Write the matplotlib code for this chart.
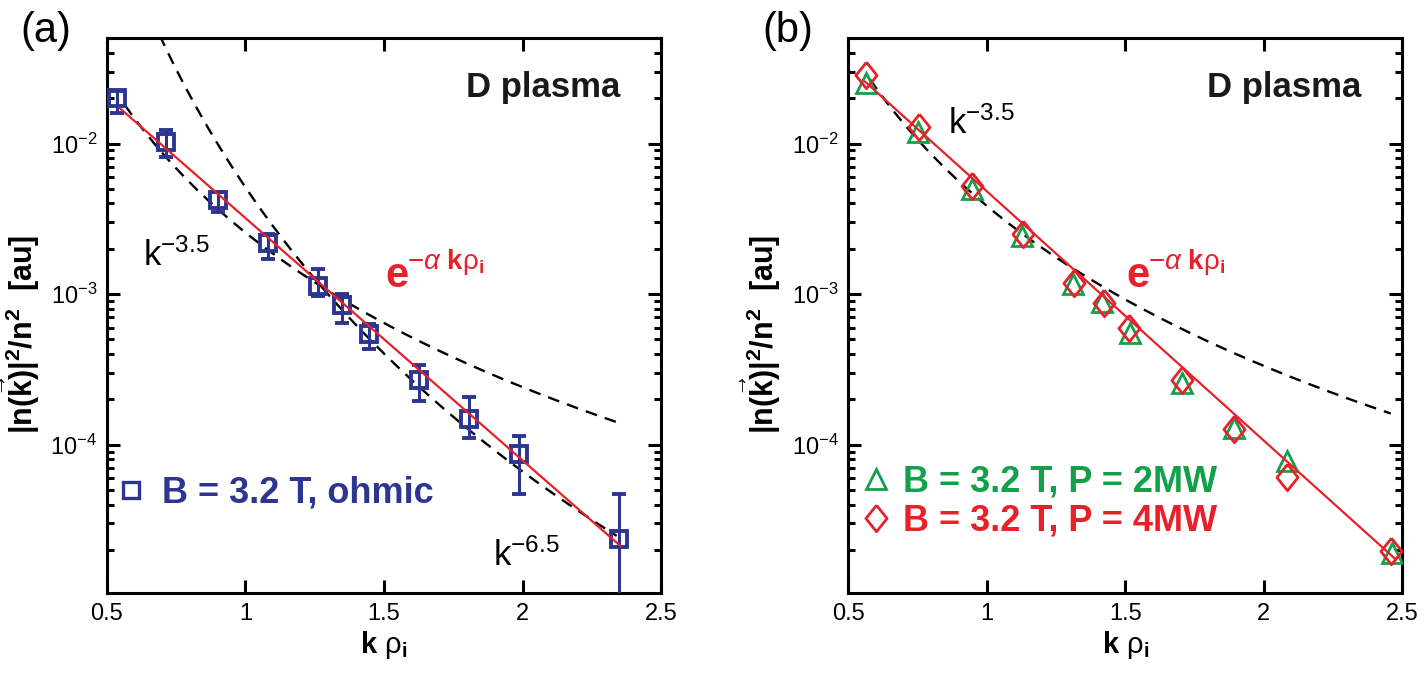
import numpy as np
import matplotlib
matplotlib.use('Agg')
import matplotlib.pyplot as plt
from matplotlib.lines import Line2D

# ---- panel (a): B = 3.2 T, ohmic ----
k_a = [0.536, 0.712, 0.900, 1.081, 1.263, 1.350, 1.447, 1.625, 1.807, 1.988, 2.350]
n_a = [2.01e-2, 1.02e-2, 4.25e-3, 2.18e-3, 1.13e-3, 8.5e-4, 5.4e-4, 2.69e-4, 1.49e-4, 8.7e-5, 2.35e-5]
n_a_hi = [2.25e-2, 1.23e-2, 4.75e-3, 2.50e-3, 1.46e-3, 9.96e-4, 6.3e-4, 3.39e-4, 2.08e-4, 1.14e-4, 4.71e-5]
n_a_lo = [1.59e-2, 8.15e-3, 3.49e-3, 1.71e-3, 9.7e-4, 6.46e-4, 4.3e-4, 1.95e-4, 1.10e-4, 4.71e-5, 1e-6]
fit_a_k = [0.547, 2.353]
fit_a_n = [1.714e-2, 2.13e-5]
# power-law guides: (k start, k end, value at k end, exponent)
guides_a = [(0.565, 2.346, 1.40e-4, -3.41), (0.690, 2.340, 2.48e-5, -6.27)]

# ---- panel (b): B = 3.2 T, P = 2MW / 4MW ----
k_b2 = [0.563, 0.753, 0.946, 1.128, 1.311, 1.416, 1.516, 1.705, 1.891, 2.084, 2.464]
n_b2 = [2.51e-2, 1.20e-2, 5.00e-3, 2.44e-3, 1.17e-3, 8.9e-4, 5.5e-4, 2.56e-4, 1.29e-4, 7.85e-5, 1.92e-5]
k_b4 = [0.564, 0.756, 0.948, 1.130, 1.313, 1.422, 1.512, 1.705, 1.891, 2.082, 2.458]
n_b4 = [2.86e-2, 1.29e-2, 5.26e-3, 2.51e-3, 1.19e-3, 8.75e-4, 6.0e-4, 2.69e-4, 1.28e-4, 6.08e-5, 1.97e-5]
fit_b_k = [0.560, 2.476]
fit_b_n = [2.58e-2, 1.73e-5]
guides_b = [(0.578, 2.458, 1.61e-4, -3.53)]

x_ticks = [0.5, 1, 1.5, 2, 2.5]
x_ticklabels = ['0.5', '1', '1.5', '2', '2.5']

BLUE = '#2c3590'
RED = '#e8202a'
GREEN = '#13a04a'

plt.rcParams['font.family'] = ['Liberation Sans', 'DejaVu Sans']
plt.rcParams['mathtext.fontset'] = 'custom'
plt.rcParams['mathtext.rm'] = 'Liberation Sans'
plt.rcParams['mathtext.bf'] = 'Liberation Sans:bold'
plt.rcParams['mathtext.it'] = 'Liberation Sans:italic'
plt.rcParams['mathtext.sf'] = 'Liberation Sans'


def style_axes(ax, tag):
    ax.set_yscale('log')
    ax.set_xlim(0.5, 2.5)
    ax.set_ylim(1.03e-5, 5e-2)
    ax.set_xticks(x_ticks)
    ax.set_xticklabels(x_ticklabels)
    ax.tick_params(which='both', direction='in', top=True, right=True, width=2.2)
    ax.tick_params(which='major', length=9.5, labelsize=17, pad=7)
    ax.tick_params(which='minor', length=5)
    for s in ax.spines.values():
        s.set_linewidth(2.2)
    ax.set_xlabel(r'$\mathbf{k}\ \mathrm{\rho}_{\mathbf{i}}$', fontsize=21, labelpad=3)
    ax.set_ylabel(r'$\mathbf{|n(\vec{k})|^2/n^2}$  [au]', fontsize=22, fontweight='bold')
    ax.yaxis.set_label_coords(-0.118, 0.467)
    ax.text(0.926, 0.894, 'D plasma', transform=ax.transAxes, ha='right',
            va='baseline', fontsize=25, fontweight='bold', color='#1a1a1a')
    ax.text(-0.11, 1.014, tag, transform=ax.transAxes, ha='center', va='center',
            fontsize=30)


def draw_guides(ax, guides):
    for k0, k1, n1, p in guides:
        kk = np.linspace(k0, k1, 200)
        ax.plot(kk, n1 * (kk / k1) ** p, color='black', lw=1.7,
                ls=(0, (5, 3.5)))


def exp_label(ax, x, y):
    ax.text(x, y, 'e', transform=ax.transAxes, color=RED, fontsize=30,
            fontweight='bold', va='baseline')
    ax.annotate(r'$-\alpha\ \mathbf{k}\mathrm{\rho}_{\mathbf{i}}$', xy=(x, y),
                xycoords='axes fraction', xytext=(15.5, 13), textcoords='offset points',
                color=RED, fontsize=20, va='baseline')


fig = plt.figure(figsize=(14.28, 6.75), dpi=100)
ax_a = fig.add_axes([0.0749, 0.121, 0.388, 0.8222])
ax_b = fig.add_axes([0.5941, 0.121, 0.388, 0.8222])

leg_font = {'size': 26, 'weight': 'bold'}

# panel (a)
style_axes(ax_a, '(a)')
draw_guides(ax_a, guides_a)
ax_a.plot(fit_a_k, fit_a_n, color=RED, lw=1.6, zorder=4)
err_a = [np.array(n_a) - np.array(n_a_lo), np.array(n_a_hi) - np.array(n_a)]
ax_a.errorbar(k_a, n_a, yerr=err_a, fmt='s', ms=12, mfc='none', mec=BLUE, mew=2.8,
              ecolor=BLUE, elinewidth=2.2, capsize=5, capthick=2.2, zorder=3)
ax_a.text(0.065, 0.591, r'$\mathrm{k}^{-3.5}$', transform=ax_a.transAxes, fontsize=25)
ax_a.text(0.697, 0.050, r'$\mathrm{k}^{-6.5}$', transform=ax_a.transAxes, fontsize=25)
exp_label(ax_a, 0.502, 0.552)
h_a = [Line2D([], [], ls='none', marker='s', ms=11, mfc='none', mec=BLUE, mew=2.4)]
leg_a = ax_a.legend(h_a, ['B = 3.2 T, ohmic'], loc='center left',
                    bbox_to_anchor=(-0.038, 0.18), frameon=False, handlelength=0.7,
                    handletextpad=0.5, prop=leg_font)
for t in leg_a.get_texts():
    t.set_color(BLUE)

# panel (b)
style_axes(ax_b, '(b)')
draw_guides(ax_b, guides_b)
ax_b.plot(fit_b_k, fit_b_n, color=RED, lw=1.6, zorder=4)
diamond = [(0, 1), (0.8, 0), (0, -1), (-0.8, 0), (0, 1)]
ax_b.plot(k_b2, n_b2, ls='none', marker='^', ms=15, mfc='none', mec=GREEN, mew=2.0, zorder=3)
ax_b.plot(k_b4, n_b4, ls='none', marker=diamond, ms=19, mfc='none', mec=RED, mew=2.0, zorder=3)
ax_b.text(0.18, 0.828, r'$\mathrm{k}^{-3.5}$', transform=ax_b.transAxes, fontsize=25)
exp_label(ax_b, 0.502, 0.552)
h_b = [Line2D([], [], ls='none', marker='^', ms=15, mfc='none', mec=GREEN, mew=2.0),
       Line2D([], [], ls='none', marker=diamond, ms=19, mfc='none', mec=RED, mew=2.0)]
leg_b = ax_b.legend(h_b, ['B = 3.2 T, P = 2MW', 'B = 3.2 T, P = 4MW'], loc='center left',
                    bbox_to_anchor=(-0.031, 0.165), frameon=False, handlelength=0.7,
                    handletextpad=0.4, labelspacing=0.12, prop=leg_font)
for t, c in zip(leg_b.get_texts(), [GREEN, RED]):
    t.set_color(c)

fig.savefig('out.png', dpi=100)
